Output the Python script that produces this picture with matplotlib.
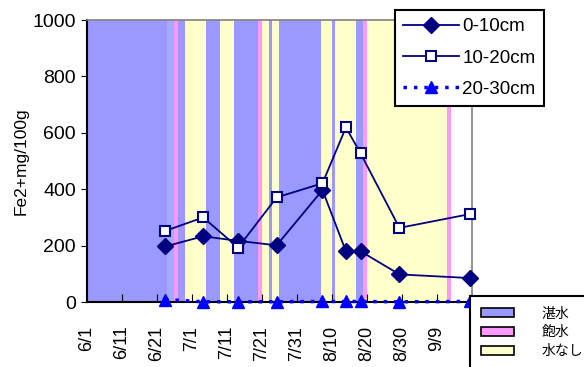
import numpy as np
import matplotlib
matplotlib.use("Agg")
import matplotlib.pyplot as plt
from matplotlib.patches import Patch

plt.rcParams['font.family'] = ['Liberation Sans', 'DejaVu Sans']

# days counted from 6/1
tick_days = [0, 10, 20, 30, 40, 50, 60, 70, 80, 90, 100]
tick_labels = ['6/1', '6/11', '6/21', '7/1', '7/11', '7/21', '7/31', '8/10', '8/20', '8/30', '9/9']

sample_days = [22.3, 33.2, 43.2, 54.2, 67.3, 74.0, 78.2, 89.3, 109.5]
fe_0_10 = [197, 233, 217, 201, 397, 180, 180, 98, 85]
fe_10_20 = [252, 300, 193, 371, 421, 619, 527, 263, 312]
fe_20_30 = [9, 1, 1, 1, 2, 2, 2, 1, 2]

# daily water state: 0 = 湛水, 1 = 飽水, 2 = 水なし, 3 = none, 4 = pale
water_state = ([0] * 23 + [4] * 2 + [1] + [0] * 2 + [2] * 6 + [0] * 4 + [2] * 4 + [0] * 7
               + [1] + [2] * 2 + [0] + [2] * 2 + [0] * 12 + [2] * 3 + [0]
               + [2] * 6 + [0] * 2 + [1] + [2] * 23 + [1] + [3] * 6)
state_names = ['湛水', '飽水', '水なし']
state_colors = ['#9999FF', '#FF99FF', '#FFFFCC', '#FFFFFF', '#A8A8FF']

fig = plt.figure(figsize=(5.84, 3.67), dpi=100)
ax = fig.add_axes([0.149, 0.177, 0.659, 0.7685])

days = np.arange(len(water_state))
ax.bar(days, 1000, width=1.0, align='edge',
       color=[state_colors[s] for s in water_state], linewidth=0, zorder=0)

ax.plot(sample_days, fe_0_10, color='#000080', lw=1.3, marker='D', ms=8,
        mfc='#000080', mec='#000080', label='0-10cm', zorder=3, clip_on=False)
ax.plot(sample_days, fe_10_20, color='#000080', lw=1.3, marker='s', ms=7,
        mfc='white', mec='#000080', mew=1.5, label='10-20cm', zorder=3, clip_on=False)
ax.plot(sample_days, fe_20_30, color='#0000FF', lw=2.5, ls=(0, (1, 2)), marker='^', ms=9,
        mfc='#0000FF', mec='#0000FF', label='20-30cm', zorder=4, clip_on=False)

ax.set_xlim(0, 110)
ax.set_ylim(0, 1000)
ax.set_yticks(range(0, 1001, 200))
ax.set_xticks(tick_days + [110])
ax.set_xticklabels(tick_labels + [''], rotation=90, fontsize=13)
ax.tick_params(axis='x', direction='in', length=6, pad=17)
ax.tick_params(axis='y', direction='out', length=4, labelsize=14, pad=4)
ax.set_ylabel('Fe2+mg/100g', fontsize=12.5, labelpad=3)

for s in ['left', 'bottom']:
    ax.spines[s].set_color('black')
    ax.spines[s].set_linewidth(1.5)
for s in ['top', 'right']:
    ax.spines[s].set_color('#808080')
    ax.spines[s].set_linewidth(1.2)

leg1 = fig.legend(loc='upper left', bbox_to_anchor=(0.676, 0.973), fontsize=13.5,
                  frameon=True, fancybox=False, edgecolor='black', framealpha=1,
                  handlelength=3.0, handletextpad=0.15, labelspacing=0.75,
                  borderpad=0.45, borderaxespad=0)
leg1.get_frame().set_linewidth(1.5)

handles = [Patch(facecolor=state_colors[i], edgecolor='black', linewidth=1.2)
           for i in range(3)]
leg2 = fig.legend(handles, state_names, loc='upper left', bbox_to_anchor=(0.805, 0.193),
                  prop={'family': ['Noto Sans CJK JP'], 'size': 10},
                  frameon=True, fancybox=False, edgecolor='black', framealpha=1,
                  handlelength=2.4, handleheight=0.55, handletextpad=2.0,
                  labelspacing=0.35, borderpad=0.75, borderaxespad=0)
leg2.get_frame().set_linewidth(1.5)

fig.savefig('out.png', dpi=100)
